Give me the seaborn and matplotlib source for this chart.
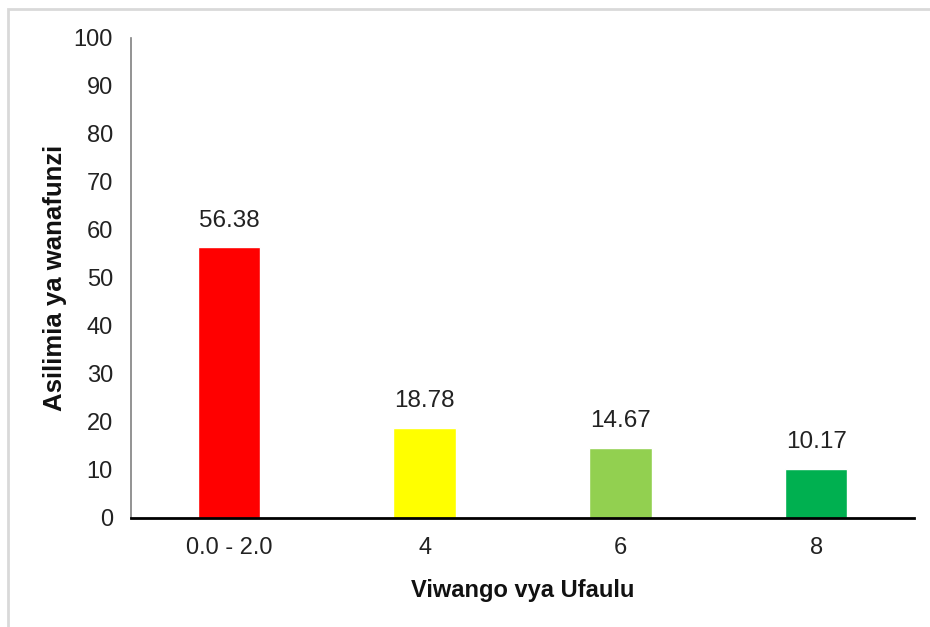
import matplotlib
matplotlib.use("Agg")
import matplotlib.pyplot as plt
import pandas as pd
import seaborn as sns
from matplotlib.patches import Rectangle

categories = ["0.0 - 2.0", "4", "6", "8"]
percent = [56.38, 18.78, 14.67, 10.17]
bar_colors = ["#ff0000", "#ffff00", "#92d050", "#00b050"]
yticks = [0, 10, 20, 30, 40, 50, 60, 70, 80, 90, 100]

sns.set_style("white")
plt.rcParams['font.family'] = ['Liberation Sans', 'DejaVu Sans']

df = pd.DataFrame({"Viwango": categories, "Asilimia": percent})

fig = plt.figure(figsize=(9.3, 6.27), dpi=100)
ax = fig.add_axes([131 / 930, 1 - 518 / 627, (914 - 131) / 930, (518 - 38) / 627])

sns.barplot(data=df, x="Viwango", y="Asilimia", hue="Viwango", palette=bar_colors,
            width=0.32, legend=False, ax=ax, saturation=1)

for p, v in zip(ax.patches, percent):
    ax.text(p.get_x() + p.get_width() / 2, v + 3.3, f"{v:.2f}", ha="center", va="bottom",
            fontsize=17.5, color="#222222")

ax.set_ylim(0, 100)
ax.set_xlim(-0.5, 3.5)
ax.set_yticks(yticks)
ax.tick_params(axis="both", length=0, labelsize=17, colors="#222222")
ax.tick_params(axis="y", pad=13)
ax.tick_params(axis="x", pad=14)
ax.set_xlabel("Viwango vya Ufaulu", fontsize=17, fontweight="bold", labelpad=14, color="#111111")
ax.set_ylabel("Asilimia ya wanafunzi", fontsize=18.5, fontweight="bold", labelpad=5, color="#111111")

for s in ["top", "right"]:
    ax.spines[s].set_visible(False)
ax.spines["left"].set_color("#808080")
ax.spines["left"].set_linewidth(1.2)
ax.spines["bottom"].set_color("black")
ax.spines["bottom"].set_linewidth(2)

# light frame (only top and left edges visible in the source)
fig.patches.append(Rectangle((8 / 930, -0.1), 1.2, 1 - 9 / 627 + 0.1, transform=fig.transFigure,
                             fill=False, edgecolor="#d9d9d9", linewidth=2))

fig.savefig("out.png", dpi=100)
